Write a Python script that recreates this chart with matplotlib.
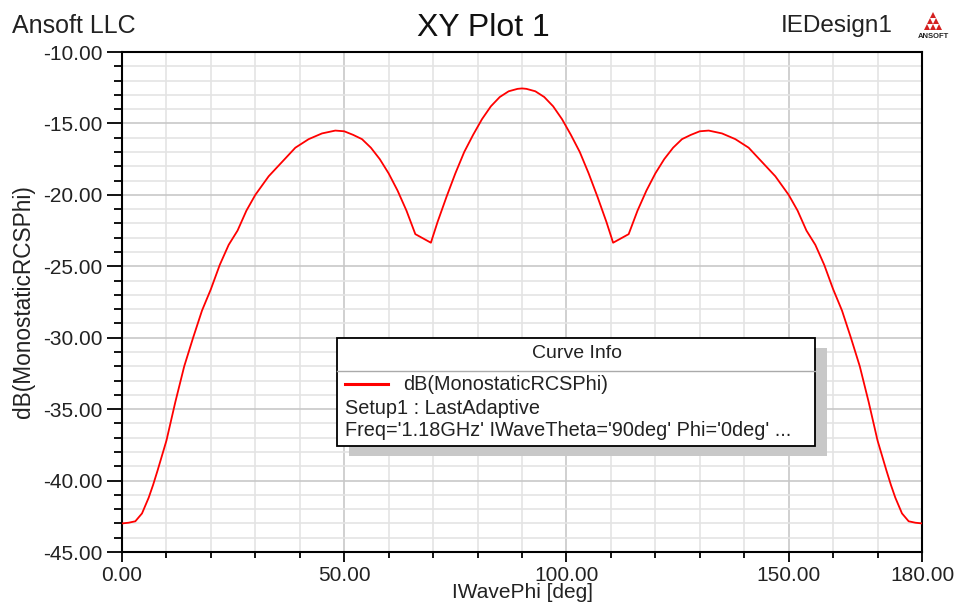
import numpy as np
import matplotlib.pyplot as plt
from matplotlib.patches import Rectangle, Polygon
from matplotlib.ticker import MultipleLocator, FixedLocator

plt.rcParams['font.family'] = ['Liberation Sans', 'DejaVu Sans']

# monostatic RCS vs IWavePhi
phi = [0, 1.5, 3, 4.5, 6, 7, 8, 10, 12, 14, 16, 18, 20, 22, 24, 26, 28, 30,
       33, 36, 39, 42, 45, 48, 50, 52, 54, 56, 58, 60, 62, 64, 66, 69.5,
       71, 73, 75, 77, 79, 81, 83, 85, 87, 89, 90,
       91, 93, 95, 97, 99, 101, 103, 105, 107, 109, 110.5, 114, 116, 118,
       120, 122, 124, 126, 128, 130, 132, 135, 138, 141, 144, 147, 150,
       152, 154, 156, 158, 160, 162, 164, 166, 168, 170, 172, 173, 174,
       175.5, 177, 178.5, 180]
rcs_db = [-43.0, -42.95, -42.85, -42.3, -41.2, -40.3, -39.3, -37.2, -34.5,
          -32.0, -30.0, -28.1, -26.6, -24.9, -23.5, -22.5, -21.1, -20.0,
          -18.7, -17.7, -16.7, -16.1, -15.7, -15.5, -15.55, -15.8, -16.1,
          -16.7, -17.5, -18.5, -19.7, -21.1, -22.75, -23.35,
          -21.9, -20.15, -18.5, -17.0, -15.8, -14.7, -13.8, -13.15, -12.75,
          -12.58, -12.55,
          -12.58, -12.75, -13.15, -13.8, -14.7, -15.8, -17.0, -18.5, -20.15,
          -21.9, -23.35, -22.75, -21.1, -19.7, -18.5, -17.5, -16.7, -16.1,
          -15.8, -15.55, -15.5, -15.7, -16.1, -16.7, -17.7, -18.7, -20.0,
          -21.1, -22.5, -23.5, -24.9, -26.6, -28.1, -30.0, -32.0, -34.5,
          -37.2, -39.3, -40.3, -41.2, -42.3, -42.85, -42.95, -43.0]

x_ticks = [0, 50, 100, 150, 180]
x_ticklabels = ['0.00', '50.00', '100.00', '150.00', '180.00']

W, H = 960, 605
fig = plt.figure(figsize=(W / 100, H / 100), dpi=100)
ax = fig.add_axes([122 / W, 1 - 552 / H, 800 / W, 500 / H])

ax.plot(phi, rcs_db, color='#ff0000', lw=1.3, zorder=3)

ax.set_xlim(0, 180)
ax.set_ylim(-45, -10)
ax.xaxis.set_major_locator(FixedLocator(x_ticks))
ax.set_xticklabels(x_ticklabels)
ax.xaxis.set_minor_locator(MultipleLocator(10))
ax.yaxis.set_major_locator(MultipleLocator(5))
ax.yaxis.set_minor_locator(MultipleLocator(1))
ax.yaxis.set_major_formatter(plt.FuncFormatter(lambda v, p: f'{v:.2f}'))

ax.grid(which='minor', color='#e4e4e4', lw=1.2)
ax.grid(which='major', color='#c8c8c8', lw=1.2)
ax.set_axisbelow(True)
# major x grid every 50 only, minor every 10
ax.xaxis.grid(False, which='major')
for xv in [50, 100, 150]:
    ax.axvline(xv, color='#c8c8c8', lw=1.2, zorder=0.5)

for s in ax.spines.values():
    s.set_linewidth(1.5)
    s.set_color('black')

ax.tick_params(axis='y', which='major', length=11, width=1.3, labelsize=15, pad=3, colors='black', labelcolor='#222222')
ax.tick_params(axis='y', which='minor', length=6, width=1.3)
ax.tick_params(axis='x', which='major', length=7, width=1.3, labelsize=15, pad=3, labelcolor='#222222')
ax.tick_params(axis='x', which='minor', length=4, width=1.3)

# axis titles placed in pixels like the reference
fig.text(522 / W, 1 - 593 / H, 'IWavePhi [deg]', fontsize=15, ha='center', va='center', color='#222222')
fig.text(24 / W, 1 - 302 / H, 'dB(MonostaticRCSPhi)', fontsize=16.3, rotation=90,
         ha='center', va='center', color='#222222')

# header texts
fig.text(483 / W, 1 - 28 / H, 'XY Plot 1', fontsize=23, ha='center', va='center', color='#111111')
fig.text(12 / W, 1 - 26 / H, 'Ansoft LLC', fontsize=18, ha='left', va='center', color='#222222')
fig.text(893 / W, 1 - 26 / H, 'IEDesign1', fontsize=17.5, ha='right', va='center', color='#222222')

# small Ansoft logo
for (cx, cy) in [(933, 15), (930, 21), (936, 21), (927, 27), (933, 27), (939, 27)]:
    tri = Polygon([((cx - 3) / W, 1 - (cy + 3) / H), ((cx + 3) / W, 1 - (cy + 3) / H),
                   (cx / W, 1 - (cy - 3) / H)], closed=True, transform=fig.transFigure,
                  color='#d42020', lw=0)
    fig.patches.append(tri)
fig.text(933 / W, 1 - 36 / H, 'ANSOFT', fontsize=5.5, weight='bold', ha='center', va='center', color='#222222')

# curve info box
bx0, bx1, by0, by1 = 337, 815, 338, 446
shadow = Rectangle(((bx0 + 12) / W, 1 - (by1 + 10) / H),
                   (bx1 - bx0) / W, (by1 - by0) / H, transform=fig.transFigure,
                   facecolor='#c8c8c8', edgecolor='none', zorder=5)
fig.patches.append(shadow)
box = Rectangle((bx0 / W, 1 - by1 / H), (bx1 - bx0) / W, (by1 - by0) / H,
                transform=fig.transFigure, facecolor='white', edgecolor='black', lw=1.3, zorder=6)
fig.patches.append(box)
fig.lines.append(plt.Line2D([bx0 / W, bx1 / W], [1 - 371 / H, 1 - 371 / H],
                            transform=fig.transFigure, color='#aaaaaa', lw=1.0, zorder=7))
fig.text(577 / W, 1 - 354 / H, 'Curve Info', fontsize=14, ha='center', va='center', color='#222222', zorder=8)
fig.lines.append(plt.Line2D([345 / W, 388 / W], [1 - 384 / H, 1 - 384 / H],
                            transform=fig.transFigure, color='#ff0000', lw=2.2, zorder=8))
fig.text(403 / W, 1 - 384 / H, 'dB(MonostaticRCSPhi)', fontsize=14.3, ha='left', va='center', color='#222222', zorder=8)
fig.text(345 / W, 1 - 408 / H, 'Setup1 : LastAdaptive', fontsize=14.3, ha='left', va='center', color='#222222', zorder=8)
fig.text(345 / W, 1 - 431 / H, "Freq='1.18GHz' IWaveTheta='90deg' Phi='0deg' ...", fontsize=14.3,
         ha='left', va='center', color='#222222', zorder=8)

fig.savefig('out.png', dpi=100)
